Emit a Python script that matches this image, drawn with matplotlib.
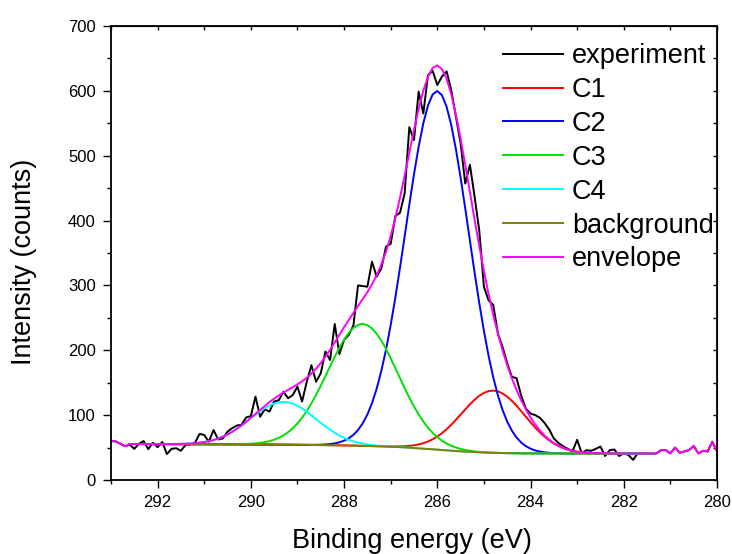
import numpy as np
import matplotlib.pyplot as plt
from matplotlib.ticker import MultipleLocator, NullFormatter

plt.rcParams['font.family'] = ['Liberation Sans', 'DejaVu Sans']

# binding energy grid (eV), 0.1 eV step
energy = [
    293.0, 292.9, 292.8, 292.7, 292.6, 292.5, 292.4, 292.3, 292.2, 292.1,
    292.0, 291.9, 291.8, 291.7, 291.6, 291.5, 291.4, 291.3, 291.2, 291.1,
    291.0, 290.9, 290.8, 290.7, 290.6, 290.5, 290.4, 290.3, 290.2, 290.1,
    290.0, 289.9, 289.8, 289.7, 289.6, 289.5, 289.4, 289.3, 289.2, 289.1,
    289.0, 288.9, 288.8, 288.7, 288.6, 288.5, 288.4, 288.3, 288.2, 288.1,
    288.0, 287.9, 287.8, 287.7, 287.6, 287.5, 287.4, 287.3, 287.2, 287.1,
    287.0, 286.9, 286.8, 286.7, 286.6, 286.5, 286.4, 286.3, 286.2, 286.1,
    286.0, 285.9, 285.8, 285.7, 285.6, 285.5, 285.4, 285.3, 285.2, 285.1,
    285.0, 284.9, 284.8, 284.7, 284.6, 284.5, 284.4, 284.3, 284.2, 284.1,
    284.0, 283.9, 283.8, 283.7, 283.6, 283.5, 283.4, 283.3, 283.2, 283.1,
    283.0, 282.9, 282.8, 282.7, 282.6, 282.5, 282.4, 282.3, 282.2, 282.1,
    282.0, 281.9, 281.8, 281.7, 281.6, 281.5, 281.4, 281.3, 281.2, 281.1,
    281.0, 280.9, 280.8, 280.7, 280.6, 280.5, 280.4, 280.3, 280.2, 280.1,
    280.0]

# measured spectrum (counts)
counts = [
    60, 59.5, 56, 52, 54.5, 48, 56, 60, 47.5, 57.5,
    50.5, 58.5, 40, 48, 49, 45, 54, 55, 57, 71,
    69.5, 59, 77, 62.5, 64, 74.5, 80, 84, 85, 96.5,
    98.5, 128.5, 97.5, 109, 105.5, 121, 123, 136, 126, 131,
    144, 121, 151.5, 177, 151.5, 164.5, 198, 185, 240.5, 194,
    216, 223.5, 238, 300, 299, 298, 336.5, 313.5, 326, 360,
    364, 407, 412, 442, 544, 524, 599, 565, 624, 631,
    609, 622, 630, 601, 560, 519, 457, 486, 437, 385,
    298, 277, 270, 226, 205, 180, 159, 157, 130, 110,
    102.5, 100, 96, 88, 78, 64, 57, 52, 48, 44,
    62, 41, 46, 45, 48, 51.5, 37, 46, 47, 37,
    41, 38.5, 31, 41, 41, 40, 40.5, 41, 46, 46,
    41, 50, 42, 44, 46, 52.5, 41, 45, 44, 59,
    44]

# fit window: 292.6 ... 281.4 eV
fit_lo, fit_hi = 4, 117

background = [
    55.5, 55.5, 55.4, 55.4, 55.4, 55.3, 55.3, 55.3, 55.3, 55.2,
    55.2, 55.2, 55.2, 55.1, 55.1, 55.1, 55.1, 55.0, 55.0, 55.0,
    55.0, 54.9, 54.9, 54.9, 54.8, 54.8, 54.8, 54.7, 54.7, 54.6,
    54.6, 54.5, 54.5, 54.4, 54.4, 54.3, 54.3, 54.2, 54.1, 54.0,
    53.9, 53.8, 53.7, 53.6, 53.5, 53.4, 53.3, 53.1, 53.0, 52.8,
    52.6, 52.4, 52.2, 52.0, 51.8, 51.5, 51.2, 50.9, 50.6, 50.2,
    49.8, 49.3, 48.8, 48.3, 47.8, 47.3, 46.8, 46.2, 45.7, 45.2,
    44.7, 44.2, 43.8, 43.4, 43.0, 42.7, 42.4, 42.1, 41.9, 41.7,
    41.5, 41.4, 41.3, 41.2, 41.1, 41.0, 41.0, 40.9, 40.9, 40.9,
    40.9, 40.9, 40.9, 40.8, 40.8, 40.8, 40.8, 40.8, 40.8, 40.8,
    40.8, 40.8, 40.8, 40.8, 40.8, 40.8, 40.8, 40.8, 40.8, 40.8,
    40.8, 40.8, 40.8]

# fitted components, height above background
c1 = [
    0, 0, 0, 0, 0, 0, 0, 0, 0, 0,
    0, 0, 0, 0, 0, 0, 0, 0, 0, 0,
    0, 0, 0, 0, 0, 0, 0, 0, 0, 0,
    0, 0, 0, 0, 0, 0, 0, 0, 0, 0,
    0, 0, 0, 0, 0, 0, 0, 0, 0, 0,
    0, 0, 0, 0.1, 0.2, 0.3, 0.5, 0.8, 1.3, 1.9,
    2.9, 4.2, 6.0, 8.4, 11.5, 15.4, 20.2, 25.9, 32.6, 40.0,
    48.1, 56.5, 65.0, 73.3, 80.7, 87.1, 91.9, 95.0, 96.0, 95.0,
    91.9, 87.1, 80.7, 73.3, 65.0, 56.5, 48.1, 40.0, 32.6, 25.9,
    20.2, 15.4, 11.5, 8.4, 6.0, 4.2, 2.9, 1.9, 1.3, 0.8,
    0.5, 0.3, 0.2, 0.1, 0, 0, 0, 0, 0, 0,
    0, 0, 0]

c2 = [
    0, 0, 0, 0, 0, 0, 0, 0, 0, 0,
    0, 0, 0, 0, 0, 0, 0, 0, 0, 0,
    0, 0, 0, 0, 0, 0, 0, 0, 0, 0,
    0, 0, 0, 0, 0, 0, 0, 0, 0.1, 0.2,
    0.4, 0.6, 1.1, 1.8, 2.9, 4.7, 7.3, 11.2, 16.6, 24.3,
    34.7, 48.5, 66.4, 88.9, 116.5, 149.4, 187.6, 230.3, 276.8, 325.5,
    374.7, 422.0, 465.1, 501.7, 529.6, 547.1, 553.0, 547.1, 529.6, 501.7,
    465.1, 422.0, 374.7, 325.5, 276.8, 230.3, 187.6, 149.4, 116.5, 88.9,
    66.4, 48.5, 34.7, 24.3, 16.6, 11.2, 7.3, 4.7, 2.9, 1.8,
    1.1, 0.6, 0.4, 0.2, 0.1, 0, 0, 0, 0, 0,
    0, 0, 0, 0, 0, 0, 0, 0, 0, 0,
    0, 0, 0]

c3 = [
    0, 0, 0, 0, 0, 0, 0, 0, 0, 0,
    0, 0, 0, 0, 0, 0, 0, 0, 0, 0,
    0.1, 0.1, 0.2, 0.3, 0.5, 0.7, 1.1, 1.7, 2.5, 3.7,
    5.4, 7.6, 10.6, 14.4, 19.3, 25.4, 32.9, 41.9, 52.3, 64.1,
    77.3, 91.5, 106.4, 121.6, 136.5, 150.5, 163.1, 173.5, 181.4, 186.3,
    188.0, 186.3, 181.4, 173.5, 163.1, 150.5, 136.5, 121.6, 106.4, 91.5,
    77.3, 64.1, 52.3, 41.9, 32.9, 25.4, 19.3, 14.4, 10.6, 7.6,
    5.4, 3.7, 2.5, 1.7, 1.1, 0.7, 0.5, 0.3, 0.2, 0.1,
    0.1, 0, 0, 0, 0, 0, 0, 0, 0, 0,
    0, 0, 0, 0, 0, 0, 0, 0, 0, 0,
    0, 0, 0, 0, 0, 0, 0, 0, 0, 0,
    0, 0, 0]

c4 = [
    0, 0, 0, 0, 0, 0, 0, 0.1, 0.1, 0.2,
    0.3, 0.5, 0.7, 1.1, 1.7, 2.4, 3.5, 4.8, 6.6, 8.9,
    11.8, 15.2, 19.2, 23.8, 28.9, 34.3, 40.0, 45.7, 51.1, 56.1,
    60.2, 63.4, 65.3, 66.0, 65.3, 63.4, 60.2, 56.1, 51.1, 45.7,
    40.0, 34.3, 28.9, 23.8, 19.2, 15.2, 11.8, 8.9, 6.6, 4.8,
    3.5, 2.4, 1.7, 1.1, 0.7, 0.5, 0.3, 0.2, 0.1, 0.1,
    0, 0, 0, 0, 0, 0, 0, 0, 0, 0,
    0, 0, 0, 0, 0, 0, 0, 0, 0, 0,
    0, 0, 0, 0, 0, 0, 0, 0, 0, 0,
    0, 0, 0, 0, 0, 0, 0, 0, 0, 0,
    0, 0, 0, 0, 0, 0, 0, 0, 0, 0,
    0, 0, 0]

labels = ['experiment', 'C1', 'C2', 'C3', 'C4', 'background', 'envelope']
colors = ['#000000', '#ff0000', '#0000ff', '#00e000', '#00ffff', '#808000', '#ff00ff']


def plot():
    e = np.array(energy)
    y = np.array(counts)
    e_fit = e[fit_lo:fit_hi]
    bg = np.array(background)
    peaks = [np.array(p) for p in (c1, c2, c3, c4)]

    # envelope = background + all peaks inside the window, raw data outside
    env = bg + sum(peaks)
    env_full = np.concatenate([y[:fit_lo], env, y[fit_hi:]])

    fig = plt.figure(figsize=(7.32, 5.54), dpi=100)
    ax = fig.add_axes([0.1516, 0.1336, 0.8279, 0.8195])

    lw = 1.4
    ax.plot(e, y, color=colors[0], lw=lw, label=labels[0])
    for p, c, lab in zip(peaks, colors[1:5], labels[1:5]):
        ax.plot(e_fit, bg + p, color=c, lw=lw, label=lab)
    ax.plot(e_fit, bg, color=colors[5], lw=lw, label=labels[5])
    ax.plot(e, env_full, color=colors[6], lw=lw, label=labels[6])

    ax.set_xlim(293, 280)
    ax.set_ylim(0, 700)
    ax.xaxis.set_major_locator(MultipleLocator(2))
    ax.xaxis.set_minor_locator(MultipleLocator(1))
    ax.yaxis.set_major_locator(MultipleLocator(100))
    ax.yaxis.set_minor_locator(MultipleLocator(50))
    ax.tick_params(which='major', direction='out', length=6, width=1,
                   labelsize=12, pad=5)
    ax.tick_params(which='minor', direction='out', length=3, width=1)
    for s in ax.spines.values():
        s.set_linewidth(1.3)

    # small inward ticks on top and right
    top = ax.secondary_xaxis('top')
    top.xaxis.set_major_locator(MultipleLocator(1))
    top.xaxis.set_major_formatter(NullFormatter())
    top.tick_params(direction='in', length=3, width=1)
    right = ax.secondary_yaxis('right')
    right.yaxis.set_major_locator(MultipleLocator(50))
    right.yaxis.set_major_formatter(NullFormatter())
    right.tick_params(direction='in', length=3, width=1)

    ax.set_xlabel('Binding energy (eV)', fontsize=19.5)
    ax.set_ylabel('Intensity (counts)', fontsize=19.5)
    ax.xaxis.set_label_coords(0.497, -0.105)
    ax.yaxis.set_label_coords(-0.122, 0.481)

    ax.legend(loc='upper right', bbox_to_anchor=(0.995, 0.962), frameon=False,
              fontsize=19.5, handlelength=2.2, handletextpad=0.35,
              labelspacing=0.29, borderpad=0, borderaxespad=0)

    fig.savefig('out.png', dpi=100)


def main():
    assert len(energy) == len(counts) == 131
    for arr in (background, c1, c2, c3, c4):
        assert len(arr) == fit_hi - fit_lo
    plot()


if __name__ == "__main__":
    main()
